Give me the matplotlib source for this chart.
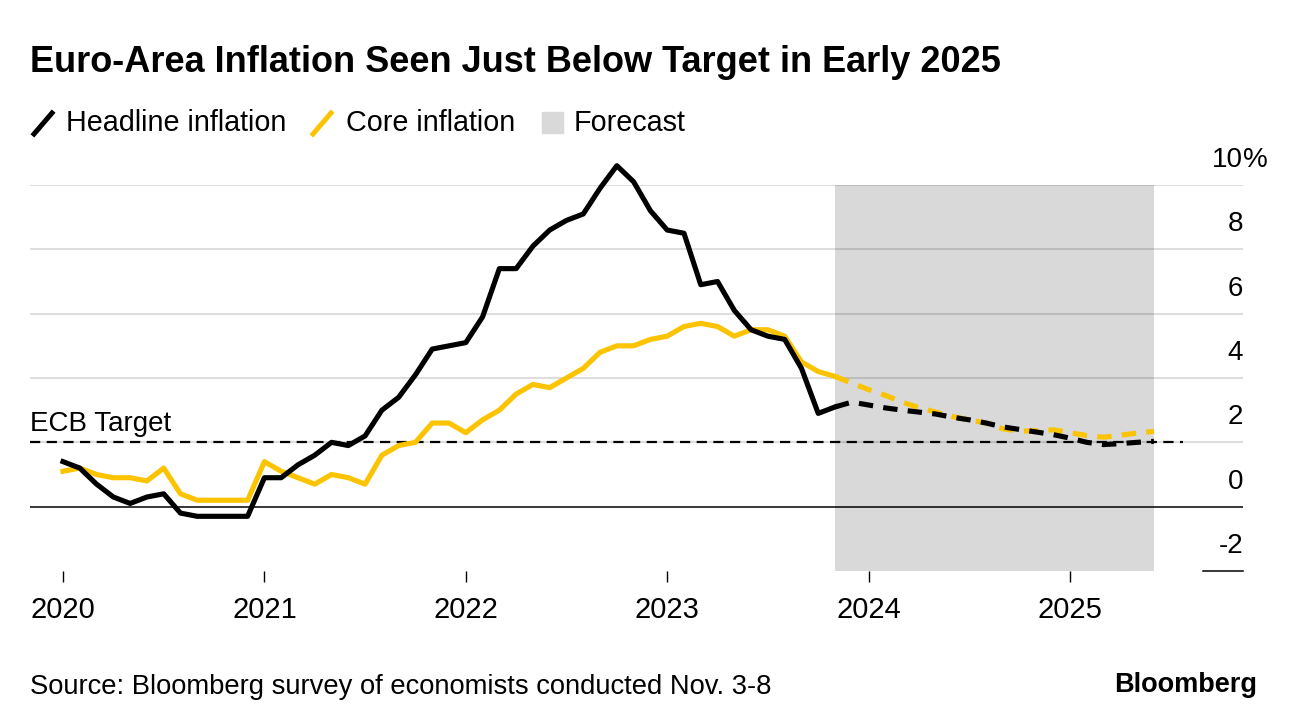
import matplotlib
matplotlib.use("Agg")
import matplotlib.pyplot as plt
from matplotlib.lines import Line2D
from matplotlib.patches import Rectangle
import numpy as np

plt.rcParams["font.family"] = ["Liberation Sans", "DejaVu Sans"]

#----------------------datos------------------------------------#
# monthly actuals, Jan 2020 .. Oct 2023 (year-over-year %)
headline = [1.4, 1.2, 0.7, 0.3, 0.1, 0.3, 0.4, -0.2, -0.3, -0.3, -0.3, -0.3,
            0.9, 0.9, 1.3, 1.6, 2.0, 1.9, 2.2, 3.0, 3.4, 4.1, 4.9, 5.0,
            5.1, 5.9, 7.4, 7.4, 8.1, 8.6, 8.9, 9.1, 9.9, 10.6, 10.1, 9.2,
            8.6, 8.5, 6.9, 7.0, 6.1, 5.5, 5.3, 5.2, 4.3, 2.9]
core = [1.1, 1.2, 1.0, 0.9, 0.9, 0.8, 1.2, 0.4, 0.2, 0.2, 0.2, 0.2,
        1.4, 1.1, 0.9, 0.7, 1.0, 0.9, 0.7, 1.6, 1.9, 2.0, 2.6, 2.6,
        2.3, 2.7, 3.0, 3.5, 3.8, 3.7, 4.0, 4.3, 4.8, 5.0, 5.0, 5.2,
        5.3, 5.6, 5.7, 5.6, 5.3, 5.5, 5.5, 5.3, 4.5, 4.2]

# survey forecast, Nov 2023 .. Jun 2025
headline_fc = [3.1, 3.25, 3.16, 3.07, 3.0, 2.94, 2.88, 2.78, 2.7, 2.6,
               2.48, 2.4, 2.32, 2.24, 2.13, 2.0, 1.93, 1.96, 2.0, 2.03]
core_fc = [4.05, 3.84, 3.64, 3.46, 3.25, 3.08, 2.94, 2.8, 2.7, 2.6,
           2.42, 2.35, 2.36, 2.39, 2.3, 2.21, 2.16, 2.22, 2.29, 2.34]

ecb_target = 2.0
forecast_start = 2023 + 10 / 12
forecast_end = 2025 + 5 / 12

years = [2020, 2021, 2022, 2023, 2024, 2025]
y_ticks = [-2, 0, 2, 4, 6, 8, 10]

x_act = 2020 + np.arange(len(headline)) / 12
x_fc = 2020 + np.arange(len(headline), len(headline) + len(headline_fc)) / 12

#----------------------estilos----------------------------------#
negro = "#000000"
amarillo = "#fbc300"
gris = "#d9d9d9"
lw = 3.7

#----------------------grafica----------------------------------#
fig = plt.figure(figsize=(12.96, 7.28), dpi=100)
ax = fig.add_axes([30 / 1296, 1 - 571 / 728, 1213 / 1296, 386 / 728])

x0 = 2020 - 33 / 201.4
x1 = x0 + 1213 / 201.4
ax.set_xlim(x0, x1)
ax.set_ylim(-2, 10)

ax.axvspan(forecast_start, forecast_end, color=gris, lw=0, zorder=0)

for v in y_ticks[2:]:
    ax.axhline(v, color="black", alpha=0.13, lw=1.5, zorder=1)
ax.axhline(0, color="black", lw=1.1, zorder=1)
ax.plot([0.967, 1.0], [-2, -2], color="black", lw=1.1,
        transform=ax.get_yaxis_transform(), clip_on=False)

ax.plot([x0, 2025.56], [ecb_target, ecb_target], color="black", lw=1.6,
        linestyle=(0, (4.6, 2.9)), zorder=2)
ax.annotate("ECB Target", xy=(x0, ecb_target), xytext=(0, 8),
            textcoords="offset points", fontsize=20, va="baseline", ha="left")

# series: actuals solid, joined to first forecast month, then dashed
ax.plot(np.append(x_act, x_fc[0]), core + core_fc[:1], color=amarillo, lw=lw,
        solid_joinstyle="round", zorder=3, clip_on=False)
ax.plot(x_fc, core_fc, color=amarillo, lw=lw, linestyle=(0, (2.8, 2.0)), zorder=3)
ax.plot(np.append(x_act, x_fc[0]), headline + headline_fc[:1], color=negro, lw=lw,
        solid_joinstyle="round", zorder=4, clip_on=False)
ax.plot(x_fc, headline_fc, color=negro, lw=lw, linestyle=(0, (2.8, 2.0)), zorder=4)

# y labels sit above the gridlines on the right
for v in y_ticks:
    ax.annotate(str(v), xy=(1.0, v), xycoords=ax.get_yaxis_transform(),
                xytext=(0, 13), textcoords="offset points",
                ha="right", va="baseline", fontsize=20)
ax.annotate("%", xy=(1.0, 10), xycoords=ax.get_yaxis_transform(),
            xytext=(0, 13), textcoords="offset points",
            ha="left", va="baseline", fontsize=20)

ax.set_yticks([])
ax.set_xticks(years)
ax.set_xticklabels([str(a) for a in years], fontsize=21)
ax.tick_params(axis="x", length=8, width=1, color="black", pad=10)
for s in ax.spines.values():
    s.set_visible(False)

#----------------------titulo_y_leyenda-------------------------#
fig.text(30 / 1296, 1 - 63 / 728, "Euro-Area Inflation Seen Just Below Target in Early 2025",
         fontsize=26, fontweight="bold", va="center", ha="left")

def px(x, y):
    return (x / 1296, 1 - y / 728)

fig.add_artist(Line2D([px(34, 0)[0], px(52, 0)[0]], [px(0, 134)[1], px(0, 113)[1]],
                      color=negro, lw=3.6, transform=fig.transFigure))
fig.text(*px(66, 123), "Headline inflation", fontsize=20.7, va="center")
fig.add_artist(Line2D([px(313, 0)[0], px(331, 0)[0]], [px(0, 134)[1], px(0, 113)[1]],
                      color=amarillo, lw=3.6, transform=fig.transFigure))
fig.text(*px(346, 123), "Core inflation", fontsize=20.7, va="center")
fig.add_artist(Rectangle(px(542, 133), 21 / 1296, 21 / 728, color=gris,
                         transform=fig.transFigure))
fig.text(*px(574, 123), "Forecast", fontsize=20.7, va="center")

fig.text(*px(30, 687), "Source: Bloomberg survey of economists conducted Nov. 3-8",
         fontsize=19.7, va="center")
fig.text(*px(1257, 685), "Bloomberg", fontsize=19.5, fontweight="bold",
         va="center", ha="right")

fig.savefig("out.png", dpi=100)
